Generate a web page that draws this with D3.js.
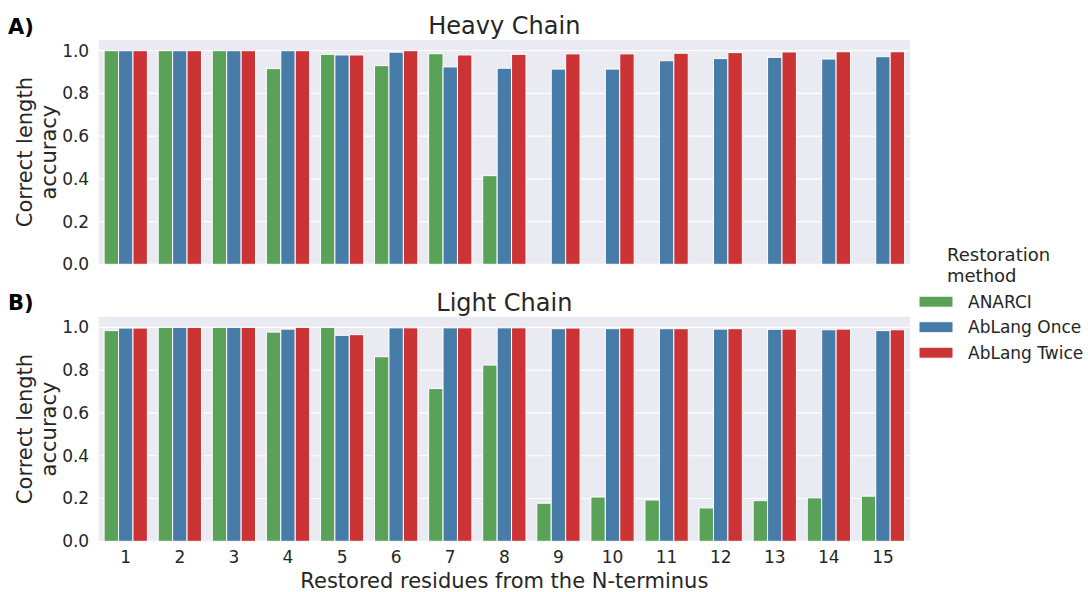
<!DOCTYPE html>
<html>
<head>
<meta charset="utf-8">
<script src="https://cdn.jsdelivr.net/npm/d3@7"></script>
<style>
  html, body { margin: 0; padding: 0; background: #ffffff; }
  svg { display: block; font-family: "DejaVu Sans", sans-serif; }
</style>
</head>
<body>
<svg id="chart" width="1088" height="592"></svg>
<script>
// ---------------- data ----------------
const categories = ["1","2","3","4","5","6","7","8","9","10","11","12","13","14","15"];
const methods = ["ANARCI", "AbLang Once", "AbLang Twice"];
const methodColors = ["#59a257", "#477ca8", "#cb3335"];
const yTicks = [0, 0.2, 0.4, 0.6, 0.8, 1.0];

const heavyANARCI = [1.0, 1.0, 1.0, 0.916, 0.983, 0.930, 0.986, 0.415, null, null, null, null, null, null, null];
const heavyOnce   = [1.0, 1.0, 1.0, 1.0, 0.980, 0.993, 0.924, 0.918, 0.914, 0.914, 0.953, 0.963, 0.969, 0.961, 0.972];
const heavyTwice  = [1.0, 1.0, 1.0, 1.0, 0.980, 1.0, 0.980, 0.983, 0.985, 0.985, 0.988, 0.991, 0.994, 0.995, 0.995];

const lightANARCI = [0.985, 1.0, 1.0, 0.978, 1.0, 0.863, 0.714, 0.824, 0.178, 0.207, 0.193, 0.156, 0.190, 0.203, 0.211];
const lightOnce   = [0.997, 1.0, 1.0, 0.992, 0.963, 0.998, 0.998, 0.998, 0.994, 0.994, 0.994, 0.992, 0.991, 0.989, 0.985];
const lightTwice  = [0.997, 1.0, 1.0, 1.0, 0.966, 0.998, 0.998, 0.998, 0.997, 0.997, 0.994, 0.994, 0.992, 0.992, 0.989];

const panels = [
  { tag: "A)", title: "Heavy Chain", series: [heavyANARCI, heavyOnce, heavyTwice], top: 40, bottom: 264.3, xLabels: false },
  { tag: "B)", title: "Light Chain", series: [lightANARCI, lightOnce, lightTwice], top: 316.7, bottom: 541.3, xLabels: true }
];

// ---------------- layout ----------------
const svg = d3.select("#chart");
const plotLeft = 98.7, plotRight = 910;
const textColor = "#262626";

const x = d3.scaleBand().domain(categories).range([plotLeft, plotRight]).paddingInner(0).paddingOuter(0);
const sub = d3.scaleBand().domain(d3.range(methods.length)).range([0, x.bandwidth() * 0.8]);

panels.forEach(p => {
  const y = d3.scaleLinear().domain([0, 1.05]).range([p.bottom, p.top]);
  const g = svg.append("g");

  // background
  g.append("rect")
    .attr("x", plotLeft).attr("y", p.top)
    .attr("width", plotRight - plotLeft).attr("height", p.bottom - p.top)
    .attr("fill", "#eaeaf2");

  // grid
  g.selectAll("line.grid").data(yTicks).enter().append("line")
    .attr("x1", plotLeft).attr("x2", plotRight)
    .attr("y1", d => y(d)).attr("y2", d => y(d))
    .attr("stroke", "#ffffff").attr("stroke-width", 1.2);

  // y axis
  const yAxis = d3.axisLeft(y).tickValues(yTicks).tickFormat(d3.format(".1f")).tickSize(0).tickPadding(9.5);
  const ya = g.append("g").attr("transform", `translate(${plotLeft},0)`).call(yAxis);
  ya.select(".domain").remove();
  ya.selectAll("text").attr("font-size", 17).attr("fill", textColor).attr("font-family", "DejaVu Sans");

  // bars
  p.series.forEach((vals, mi) => {
    const data = categories.map((c, i) => ({ c, v: vals[i] })).filter(d => d.v !== null);
    g.selectAll(null).data(data).enter().append("rect")
      .attr("x", d => x(d.c) + x.bandwidth() * 0.1 + sub(mi))
      .attr("y", d => y(d.v))
      .attr("width", sub.bandwidth())
      .attr("height", d => y(0) - y(d.v))
      .attr("fill", methodColors[mi])
      .attr("stroke", "#ffffff").attr("stroke-width", 1);
  });

  // x axis labels
  if (p.xLabels) {
    const xAxis = d3.axisBottom(x).tickSize(0).tickPadding(10);
    const xa = g.append("g").attr("transform", `translate(0,${p.bottom})`).call(xAxis);
    xa.select(".domain").remove();
    xa.selectAll("text").attr("font-size", 17).attr("fill", textColor).attr("font-family", "DejaVu Sans");
  }

  // title
  g.append("text")
    .attr("x", (plotLeft + plotRight) / 2).attr("y", p.top - 6)
    .attr("text-anchor", "middle").attr("font-size", 24).attr("fill", textColor)
    .text(p.title);

  // panel tag
  g.append("text")
    .attr("x", 8).attr("y", p.top - 6.5)
    .attr("font-size", 21).attr("font-weight", "bold").attr("fill", "#000")
    .text(p.tag);

  // y axis label
  const cy = (p.top + p.bottom) / 2;
  const yl = g.append("text")
    .attr("transform", `translate(31.5,${cy}) rotate(-90)`)
    .attr("text-anchor", "middle").attr("font-size", 21).attr("fill", textColor);
  yl.append("tspan").attr("x", 0).attr("dy", 0).text("Correct length");
  yl.append("tspan").attr("x", 0).attr("dy", 24).text("accuracy");
});

// x axis title
svg.append("text")
  .attr("x", (plotLeft + plotRight) / 2).attr("y", 588)
  .attr("text-anchor", "middle").attr("font-size", 21).attr("fill", textColor)
  .text("Restored residues from the N-terminus");

// legend
const lg = svg.append("g");
lg.append("text").attr("x", 947).attr("y", 260.5).attr("font-size", 18).attr("fill", textColor).text("Restoration");
lg.append("text").attr("x", 947).attr("y", 281.5).attr("font-size", 18).attr("fill", textColor).text("method");
const legendY = d3.scalePoint().domain(methods).range([301.7, 352.7]);
methods.forEach((m, i) => {
  lg.append("rect").attr("x", 919).attr("y", legendY(m) - 5.5).attr("width", 34).attr("height", 11)
    .attr("fill", methodColors[i]).attr("stroke", "#ffffff").attr("stroke-width", 1);
  lg.append("text").attr("x", 968).attr("y", legendY(m) + 6).attr("font-size", 17).attr("fill", textColor).text(m);
});
</script>
</body>
</html>
